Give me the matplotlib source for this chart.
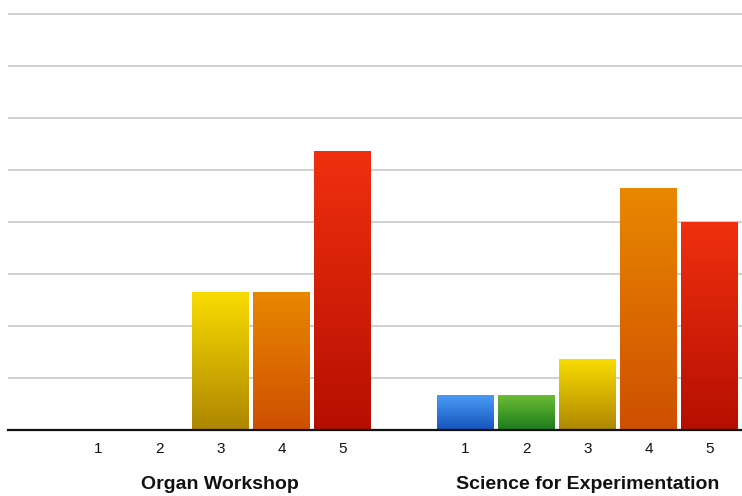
import matplotlib
matplotlib.use("Agg")
import matplotlib.pyplot as plt
import numpy as np
from matplotlib.colors import LinearSegmentedColormap

plt.rcParams['font.family'] = ['Liberation Sans', 'DejaVu Sans']

# Data (values in gridline units)
groups = ["Organ Workshop", "Science for Experimentation"]
ratings = ["1", "2", "3", "4", "5"]
organ_values = [0, 0, 2.65, 2.65, 5.35]
science_values = [0.67, 0.67, 1.35, 4.65, 4.0]

# Gradient (top, bottom) per rating
grad_colors = [
    ("#4b9cf6", "#1453bd"),  # 1 blue
    ("#6cbd35", "#1c7a1c"),  # 2 green
    ("#f9dd00", "#ad8600"),  # 3 yellow
    ("#e98700", "#cf4f00"),  # 4 orange
    ("#f0300e", "#b50f02"),  # 5 red
]

fig = plt.figure(figsize=(7.42, 4.96), dpi=100)
ax = fig.add_axes([8 / 742, 66 / 496, 734 / 742, 430 / 496])

n = len(ratings)
x_organ = np.arange(n)
x_science = np.arange(n) + n + 1
width = 0.925

bars = []
for xs, vals in [(x_organ, organ_values), (x_science, science_values)]:
    b = ax.bar(xs, vals, width=width, color="none", zorder=3)
    bars.append(b)

# fill bars with vertical gradients
grad = np.linspace(1, 0, 256).reshape(-1, 1)
for b in bars:
    for i, rect in enumerate(b.patches):
        h = rect.get_height()
        if h <= 0:
            continue
        top, bottom = grad_colors[i]
        cmap = LinearSegmentedColormap.from_list("g%d" % i, [bottom, top])
        x0 = rect.get_x()
        ax.imshow(grad, extent=[x0, x0 + rect.get_width(), 0, h],
                  cmap=cmap, aspect="auto", zorder=3, interpolation="bicubic")

ax.set_xlim(-1.47, 10.53)
ax.set_ylim(0, 430 / 52)

# gridlines
ax.set_yticks(np.arange(1, 9))
ax.yaxis.grid(True, color="#c8c8c8", linewidth=1.2, zorder=0)
ax.tick_params(axis="y", left=False, labelleft=False)
for s in ["top", "right", "left"]:
    ax.spines[s].set_visible(False)
ax.spines["bottom"].set_color("#111111")
ax.spines["bottom"].set_linewidth(1.6)
ax.spines["bottom"].set_zorder(5)
ax.set_axisbelow(True)

ax.set_xticks(list(x_organ) + list(x_science))
ax.set_xticklabels(ratings + ratings, fontsize=11, color="#111111")
ax.tick_params(axis="x", length=0, pad=8.5)

# group labels
for xs, name in zip([x_organ, x_science], groups):
    ax.annotate(name, xy=(xs.mean(), 0), xycoords=("data", "axes fraction"),
                xytext=(0, -39.5), textcoords="offset points",
                ha="center", va="center", fontsize=14, fontweight="bold",
                color="#111111")

fig.savefig("out.png", dpi=100)
